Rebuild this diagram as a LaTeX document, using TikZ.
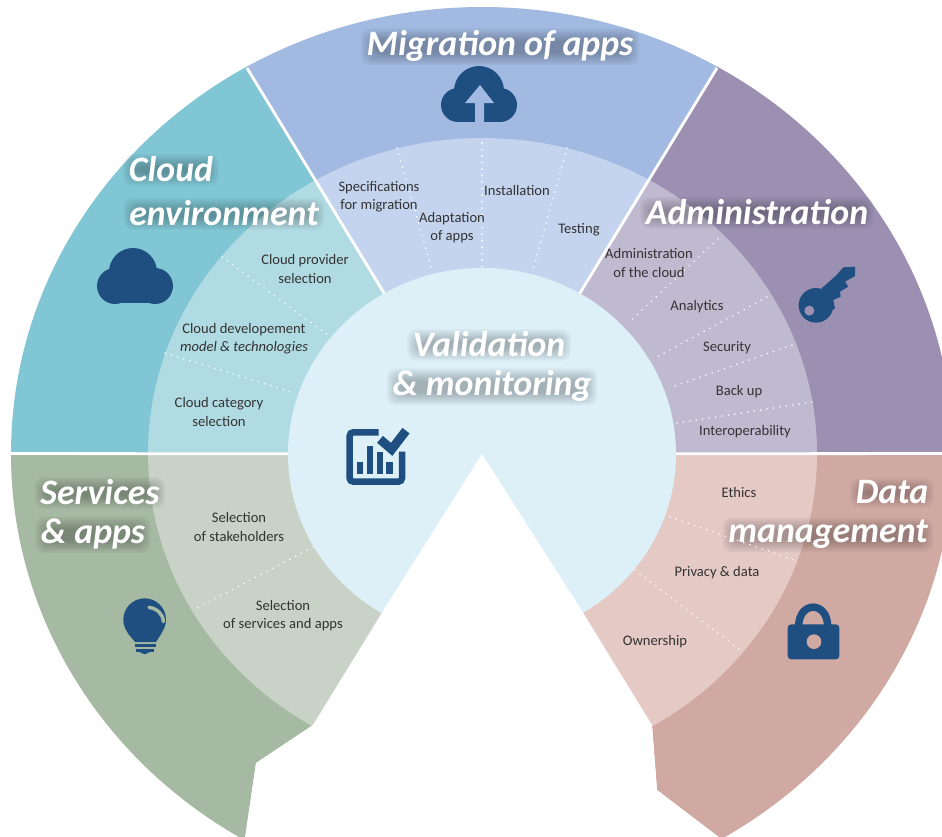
\documentclass[tikz,border=0pt]{standalone}
\usepackage{fontspec}
\setmainfont{Carlito}
\pgfdeclarelayer{sectors}
\pgfdeclarelayer{glow}
\pgfsetlayers{sectors,glow,main}
\definecolor{oblue}{HTML}{A2BAE1}
\definecolor{mblue}{HTML}{C5D4EE}
\definecolor{oteal}{HTML}{81C6D4}
\definecolor{mteal}{HTML}{B1DBE3}
\definecolor{opurple}{HTML}{9B90B2}
\definecolor{mpurple}{HTML}{C0BAD0}
\definecolor{ogreen}{HTML}{A6B9A2}
\definecolor{mgreen}{HTML}{C8D2C6}
\definecolor{opink}{HTML}{D1A9A3}
\definecolor{mpink}{HTML}{E4C9C5}
\definecolor{core}{HTML}{DDF0F8}
\definecolor{iconblue}{HTML}{1F4E80}
\definecolor{ink}{HTML}{333333}
\tikzset{
  body/.style={text=ink,font=\fontsize{8.3}{10.3}\selectfont,align=center,inner sep=0pt},
  headtext/.style={text=white,font=\fontsize{20.4}{24}\selectfont\bfseries\itshape,inner sep=0pt},
  divider/.style={white,line width=1.6pt},
  dots/.style={white,line width=0.9pt,line cap=round,dash pattern=on 0.1pt off 3.6pt},
  icon/.style={fill=iconblue,draw=none},
  iconline/.style={draw=iconblue,fill=none},
  cropped/.style={x=0.0066667cm,y=-0.0066667cm}
}
\newcommand{\sectorfill}[3]{%
  \begin{scope}
    \clip #1 -- cycle;
    \fill[#2] (482,454) ellipse [x radius=471,y radius=447];
    \fill[#3] (482.5,454) ellipse [x radius=334.5,y radius=316];
  \end{scope}}
\newcommand{\headline}[3]{%
  \node[headtext] (#1) at (#2) {#3};
  \begin{pgfonlayer}{glow}
    \foreach \g in {-3,...,4} {
      \fill[black,opacity=0.035,rounded corners=5pt]
        ([shift={(\g*1pt,\g*1pt+1pt)}]#1.south west) ++(0,0) rectangle ([shift={(-\g*1pt,-\g*1pt-2pt)}]#1.north east);
    }
  \end{pgfonlayer}}
\newcommand{\dotline}[3]{%
  \coordinate (#1a) at (#2);
  \coordinate (#1b) at (#3);
  \draw[dots] (#1a) -- (#1b);}
\begin{document}
\begin{tikzpicture}[x=0.02cm,y=-0.02cm]
\useasboundingbox (0,0) rectangle (942,836);
\clip (0,0) rectangle (942,836);
\coordinate (C) at (482,454);
\coordinate (UL) at (247,68);
\coordinate (UR) at (717,68);
\coordinate (LE) at (0,453.5);
\coordinate (RE) at (942,453.5);
\coordinate (LI) at (383,611);
\coordinate (LM) at (313,725);
\coordinate (LN) at (256,763);
\coordinate (LT) at (245,838);
\coordinate (RI) at (582,611);
\coordinate (RM) at (652,725);
\coordinate (RN) at (657,790);
\coordinate (RT) at (720,838);
\begin{pgfonlayer}{sectors}
\sectorfill{(C) -- (247,68) -- (247,-20) -- (717,-20) -- (717,68)}{oblue}{mblue}
\sectorfill{(C) -- (247,68) -- (247,-20) -- (-20,-20) -- (-20,453.5)}{oteal}{mteal}
\sectorfill{(C) -- (717,68) -- (717,-20) -- (990,-20) -- (990,453.5)}{opurple}{mpurple}
\sectorfill{(C) -- (-20,453.5) -- (-20,900) -- (245,900) -- (LT) -- (LN) -- (LM) -- (LI)}{ogreen}{mgreen}
\sectorfill{(C) -- (990,453.5) -- (990,900) -- (720,900) -- (RT) -- (RN) -- (RM) -- (RI)}{opink}{mpink}
\draw[divider] (C) -- (UL);
\draw[divider] (C) -- (UR);
\draw[divider] (C) -- (LE);
\draw[divider] (C) -- (RE);
\fill[core] (482,454) ellipse [x radius=194,y radius=186];
\fill[white] (C) -- (LI) -- (LM) -- (LN) -- (LT) -- (RT) -- (RN) -- (RM) -- (RI) -- cycle;
\end{pgfonlayer}

% dotted separators
\dotline{m1}{397,148}{432,270}
\dotline{m2}{482,143}{482,267}
\dotline{m3}{567,148}{533,270}
\dotline{c1}{222,257}{328,335}
\dotline{c2}{165,353}{295,393}
\dotline{a1}{718,239}{628,323}
\dotline{a2}{767,297}{657,357}
\dotline{a3}{792,345}{672,387}
\dotline{a4}{812,402}{677,423}
\dotline{s1}{313,547}{197,608}
\dotline{d1}{670,517}{797,561}
\dotline{d2}{635,570}{740,650}

% headings
\headline{hmig}{500,46}{Migration of apps}
\headline{hcl}{171,169}{Cloud}
\headline{henv}{224,213}{environment}
\headline{hadm}{757,212}{Administration}
\headline{hval}{489,344}{Validation}
\headline{hmon}{492,386}{\& monitoring}
\headline{hser}{100,492}{Services}
\headline{happ}{93,534}{\& apps}
\headline{hdat}{892,492}{Data}
\headline{hman}{828,534}{management}

% labels
\node[body] (l1) at (379,197) {Specifications\\for migration};
\node[body] (l2) at (517,190) {Installation};
\node[body] (l3) at (452,228) {Adaptation\\of apps};
\node[body] (l4) at (579,230) {Testing};
\node[body] (l5) at (649,263) {Administration\\of the cloud};
\node[body] (l6) at (305,269) {Cloud provider\\selection};
\node[body] (l7) at (244,339) {Cloud developement\\{\itshape model \& technologies}};
\node[body] (l8) at (219,412) {Cloud category\\selection};
\node[body] (l9) at (697,307) {Analytics};
\node[body] (l10) at (727,348) {Security};
\node[body] (l11) at (739,392) {Back up};
\node[body] (l12) at (745,432) {Interoperability};
\node[body] (l13) at (239,527) {Selection\\of stakeholders};
\node[body] (l14) at (283,616) {Selection\\of services and apps};
\node[body] (l15) at (739,492) {Ethics};
\node[body] (l16) at (717,573) {Privacy \& data};
\node[body] (l17) at (655,642) {Ownership};

% cloud with arrow
\begin{scope}
\fill[icon] (479,91) circle [radius=25];
\fill[icon] (458,105) circle [radius=17];
\fill[icon] (500,105) circle [radius=17];
\fill[icon] (458,96) rectangle (500,122);
\fill[oblue] (480,85) -- (465,103) -- (475,103) -- (475,123) -- (484,123) -- (484,103) -- (494,103) -- cycle;
\end{scope}

% plain cloud
\fill[icon] (133,272) circle [radius=24];
\fill[icon] (115,286) circle [radius=18];
\fill[icon] (155,286) circle [radius=18];
\fill[icon] (115,285) rectangle (155,303);

% key
\begin{scope}[shift={(570,180)},cropped]
\fill[icon] (738,376) circle [radius=52];
\fill[icon] (755,325) -- (800,285) -- (820,262) -- (855,260) -- (855,288) -- (825,305) -- (835,320) -- (810,335) -- (812,350) -- (790,360) -- (795,385) -- (770,400) -- cycle;
\fill[opurple] (718,392) circle [radius=15];
\end{scope}

% lock
\begin{scope}[shift={(560,440)},cropped]
\fill[icon,rounded corners=2pt] (683,553) rectangle (838,658);
\draw[iconline,line width=0.15cm] (716,560) .. controls (716,482) and (803,482) .. (803,560);
\fill[opink] (762,605) circle [radius=22];
\end{scope}

% bulb
\begin{scope}[shift={(0,440)},cropped]
\fill[icon] (434,539) circle [radius=64];
\fill[icon] (382,578) -- (405,606) -- (468,606) -- (486,578) -- cycle;
\fill[icon] (405,612) rectangle (468,622);
\fill[icon] (408,628) rectangle (462,636);
\fill[icon] (418,636) -- (450,636) -- (434,643) -- cycle;
\draw[ogreen,line width=0.07cm,line cap=round] (447,502) .. controls (470,505) and (490,522) .. (490,545);
\end{scope}

% chart
\begin{scope}[shift={(330,320)},cropped]
\draw[iconline,line width=0.13cm,rounded corners=2pt] (146,337) -- (59,337) -- (59,485) -- (216,485) -- (216,395);
\fill[icon] (82,425) rectangle (100,462);
\fill[icon] (110,378) rectangle (130,462);
\fill[icon] (140,395) rectangle (160,462);
\fill[icon] (168,425) rectangle (190,462);
\draw[iconline,line width=0.18cm] (150,358) -- (185,388) -- (228,332);
\end{scope}
\end{tikzpicture}
\end{document}
